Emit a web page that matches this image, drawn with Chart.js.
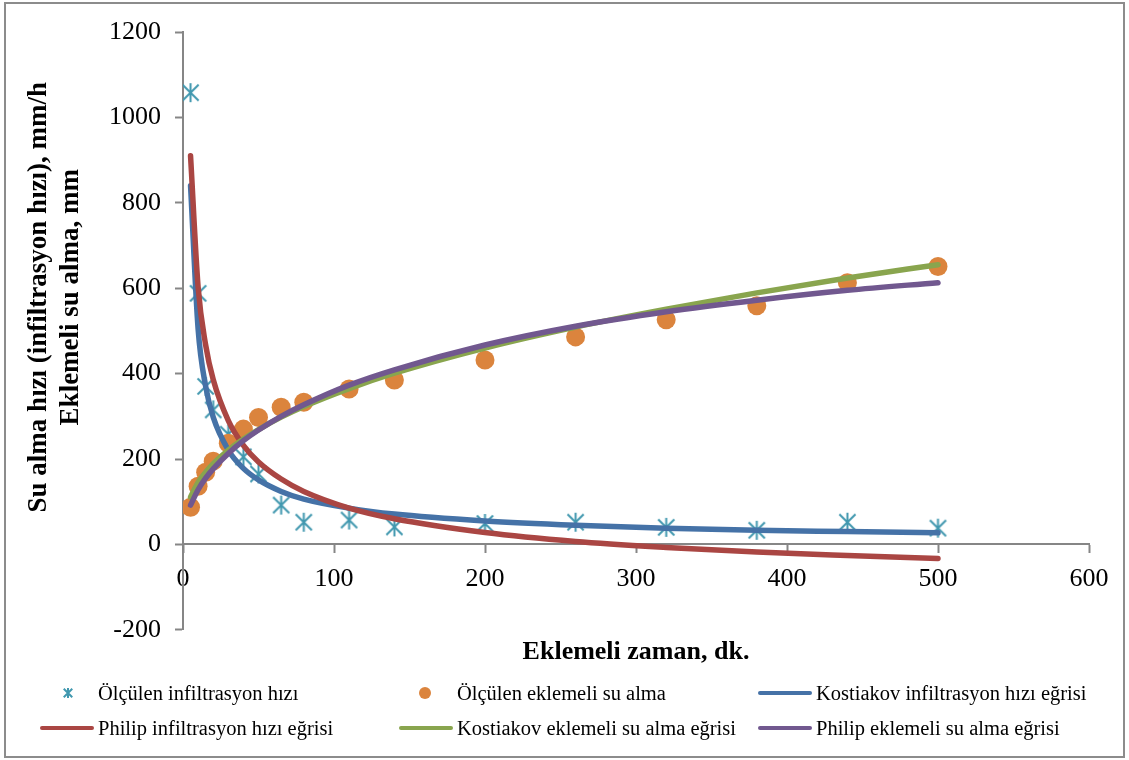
<!DOCTYPE html>
<html lang="tr">
<head>
<meta charset="utf-8">
<title>Su alma hızı ve eklemeli su alma</title>
<script src="https://cdn.jsdelivr.net/npm/chart.js@4.4.1/dist/chart.umd.min.js"></script>
<style>
    html, body { margin: 0; padding: 0; background: #ffffff; }
    #cerceve { position: absolute; left: 4px; top: 2px; width: 1121px; height: 756px; box-sizing: border-box; border: 2px solid #8c8c8c; }
    #grafik { position: absolute; left: 0; top: 0; }
    #lejant { position: absolute; left: 0; top: 0; width: 1129px; height: 760px; pointer-events: none;
              font-family: 'Liberation Serif', 'Times New Roman', serif; font-size: 20.5px; color: #000; }
    .oge { position: absolute; height: 24px; line-height: 24px; white-space: nowrap; }
    .cizgi { position: absolute; height: 4px; border-radius: 2px; }
    .daire { position: absolute; width: 12px; height: 12px; border-radius: 50%; }
    .yildiz { position: absolute; width: 12px; height: 12px; }
</style>
</head>
<body>
<div id="cerceve"></div>
<canvas id="grafik" width="1129" height="760"></canvas>
<div id="lejant"></div>
<script>
// eklemeli zaman (dk.)
const zaman = [5, 10, 15, 20, 30, 40, 50, 65, 80, 110, 140, 200, 260, 320, 380, 440, 500];

// ölçülen değerler
const olculenHiz = [1058, 588, 370, 315, 258, 205, 165, 92, 52, 57, 41, 49, 52, 40, 33, 52, 38];
const olculenEklemeli = [87, 136, 169, 195, 237, 270, 297, 321, 333, 364, 385, 432, 486, 526, 559, 613, 651];

// eğriler
const kostiakovHiz = [840, 505, 370, 298, 221, 178, 151, 124, 106, 85, 71, 55, 45, 38, 33, 30, 27];
const philipHiz = [910, 603, 467, 386, 290, 232, 193, 153, 124, 85, 60, 28, 7, -7, -18, -26, -33];
const kostiakovEklemeli = [111, 145, 169, 189, 221, 247, 269, 298, 323, 365, 401, 460, 509, 551, 589, 624, 655];
const philipEklemeli = [92, 128, 155, 177, 213, 243, 268, 300, 327, 373, 409, 467, 511, 545, 572, 595, 613];

const seriAdlari = [
    'Ölçülen infiltrasyon hızı',
    'Ölçülen eklemeli su alma',
    'Kostiakov infiltrasyon hızı eğrisi',
    'Philip infiltrasyon hızı eğrisi',
    'Kostiakov eklemeli su alma eğrisi',
    'Philip eklemeli su alma eğrisi'
];
const renkler = ['#4198AF', '#DB843D', '#4572A7', '#AA4643', '#89A54E', '#71588F'];

const xEtiketleri = [0, 100, 200, 300, 400, 500, 600];
const yEtiketleri = [-200, 0, 200, 400, 600, 800, 1000, 1200];

const xBaslik = 'Eklemeli zaman, dk.';
const yBaslik = ['Su alma hızı (infiltrasyon hızı), mm/h', 'Eklemeli su alma, mm'];

const noktalar = (ys) => zaman.map((t, i) => ({ x: t, y: ys[i] }));

// Excel'deki yıldız işareti: dikey çizgi + çarpı
function yildizCiz(boyut, kalinlik) {
    const c = document.createElement('canvas');
    c.width = boyut; c.height = boyut;
    const ctx = c.getContext('2d');
    const m = boyut / 2, r = boyut / 2 - 1;
    ctx.strokeStyle = renkler[0];
    ctx.lineWidth = kalinlik;
    ctx.beginPath();
    ctx.moveTo(m, m - r); ctx.lineTo(m, m + r);
    ctx.moveTo(m - r * 0.85, m - r * 0.85); ctx.lineTo(m + r * 0.85, m + r * 0.85);
    ctx.moveTo(m - r * 0.85, m + r * 0.85); ctx.lineTo(m + r * 0.85, m - r * 0.85);
    ctx.stroke();
    return c;
}

Chart.defaults.font.family = "'Liberation Serif', 'Times New Roman', serif";
Chart.defaults.color = '#000';

const egri = (ad, veri, renk, sira) => ({
    label: ad,
    data: noktalar(veri),
    showLine: true,
    borderColor: renk,
    borderWidth: 5.5,
    borderCapStyle: 'round',
    cubicInterpolationMode: 'monotone',
    pointRadius: 0,
    order: sira
});

const eksenRengi = '#868686';

new Chart(document.getElementById('grafik'), {
    type: 'scatter',
    data: {
        datasets: [
            {
                label: seriAdlari[0],
                data: noktalar(olculenHiz),
                pointStyle: yildizCiz(21, 2),
                pointRadius: 10,
                order: 6
            },
            {
                label: seriAdlari[1],
                data: noktalar(olculenEklemeli),
                pointStyle: 'circle',
                pointRadius: 9.5,
                backgroundColor: renkler[1],
                borderWidth: 0,
                order: 5
            },
            egri(seriAdlari[2], kostiakovHiz, renkler[2], 4),
            egri(seriAdlari[3], philipHiz, renkler[3], 3),
            egri(seriAdlari[4], kostiakovEklemeli, renkler[4], 2),
            egri(seriAdlari[5], philipEklemeli, renkler[5], 1)
        ]
    },
    options: {
        responsive: false,
        animation: false,
        layout: {
            padding: { left: 0, top: 32, right: 40, bottom: 92 }
        },
        plugins: {
            legend: { display: false },
            tooltip: { enabled: false },
            title: {
                display: true,
                text: xBaslik,
                position: 'bottom',
                fullSize: false,
                color: '#000',
                font: { size: 26, weight: 'bold', lineHeight: 1.2 },
                padding: { top: 7, bottom: 0 }
            }
        },
        scales: {
            x: {
                type: 'linear',
                position: { y: 0 },
                min: xEtiketleri[0],
                max: xEtiketleri[xEtiketleri.length - 1],
                afterBuildTicks: (s) => { s.ticks = xEtiketleri.map(v => ({ value: v })); },
                ticks: {
                    font: { size: 26 },
                    color: '#000',
                    padding: 11,
                    maxRotation: 0,
                    callback: (v) => String(v)
                },
                grid: { drawOnChartArea: false, tickLength: 8, tickWidth: 2, tickColor: eksenRengi },
                border: { color: eksenRengi, width: 2 }
            },
            y: {
                type: 'linear',
                min: yEtiketleri[0],
                max: yEtiketleri[yEtiketleri.length - 1],
                afterBuildTicks: (s) => { s.ticks = yEtiketleri.map(v => ({ value: v })); },
                afterFit: (s) => { s.width = 183; },
                ticks: {
                    font: { size: 26 },
                    color: '#000',
                    padding: 14,
                    callback: (v) => String(v)
                },
                grid: { drawOnChartArea: false, tickLength: 8, tickWidth: 2, tickColor: eksenRengi },
                border: { color: eksenRengi, width: 2 },
                title: {
                    display: true,
                    // baştaki boşluklar başlığı Excel'deki gibi biraz yukarı kaydırır
                    text: yBaslik.map(s => '          ' + s),
                    color: '#000',
                    font: { size: 27, weight: 'bold', lineHeight: 1.15 },
                    padding: { top: 24, bottom: 0 }
                }
            }
        }
    }
});

// lejant (Excel düzeninde 3 sütun)
const yerler = [[98, 693], [457, 693], [816, 693], [98, 728], [457, 728], [816, 728]];
const isaretler = ['yildiz', 'daire', 'cizgi', 'cizgi', 'cizgi', 'cizgi'];
const lejant = document.getElementById('lejant');
seriAdlari.forEach((ad, i) => {
    const [x, y] = yerler[i];
    const yazi = document.createElement('div');
    yazi.className = 'oge';
    yazi.style.left = x + 'px';
    yazi.style.top = (y - 12) + 'px';
    yazi.textContent = ad;
    lejant.appendChild(yazi);

    if (isaretler[i] === 'cizgi') {
        const c = document.createElement('div');
        c.className = 'cizgi';
        c.style.left = (x - 58) + 'px';
        c.style.width = '54px';
        c.style.top = (y - 2) + 'px';
        c.style.background = renkler[i];
        lejant.appendChild(c);
    } else if (isaretler[i] === 'daire') {
        const d = document.createElement('div');
        d.className = 'daire';
        d.style.left = (x - 38) + 'px';
        d.style.top = (y - 6) + 'px';
        d.style.background = renkler[i];
        lejant.appendChild(d);
    } else {
        const img = yildizCiz(12, 2);
        img.className = 'yildiz';
        img.style.left = (x - 36) + 'px';
        img.style.top = (y - 6) + 'px';
        lejant.appendChild(img);
    }
});
</script>
</body>
</html>
